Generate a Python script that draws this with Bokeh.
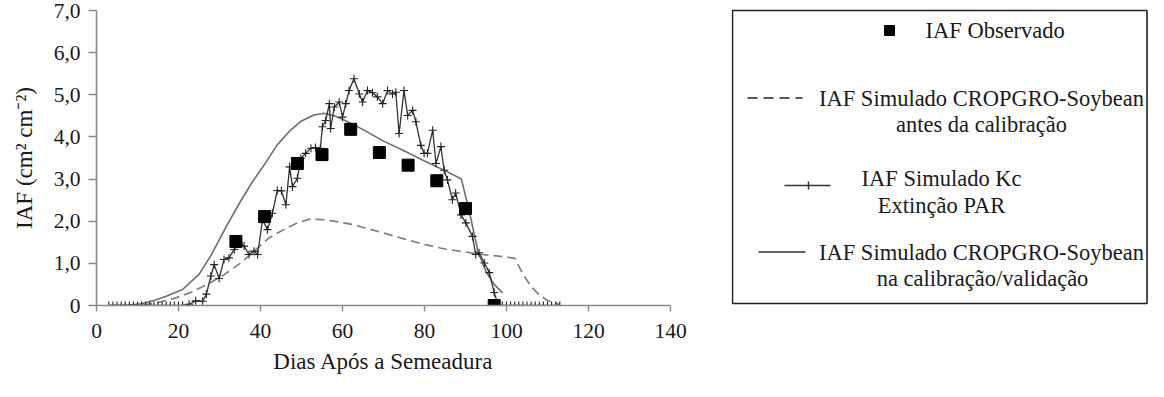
from bokeh.plotting import figure
from bokeh.models import Range1d, FixedTicker, ColumnDataSource
from bokeh.layouts import row
from bokeh.embed import file_html
from bokeh.resources import INLINE
from bokeh.core.properties import value

FONT = "Liberation Serif"

# ---- data ----
obs_days = [34, 41, 49, 55, 62, 69, 76, 83, 90, 97]
obs_iaf = [1.52, 2.11, 3.37, 3.58, 4.18, 3.63, 3.33, 2.96, 2.30, 0.0]

cal_days = [3, 8, 11, 14, 17, 21, 25, 28, 31.5, 35, 38, 41, 44, 47, 50, 53, 55.5, 58, 60, 63, 66, 70, 75, 80, 85, 89, 91, 93, 95, 97, 99]
cal_iaf = [0.0, 0.01, 0.04, 0.12, 0.22, 0.38, 0.74, 1.2, 1.85, 2.45, 2.93, 3.35, 3.8, 4.13, 4.38, 4.52, 4.56, 4.5, 4.42, 4.28, 4.12, 3.9, 3.67, 3.43, 3.2, 3.0, 2.2, 1.3, 0.8, 0.5, 0.3]

pre_days = [8, 12, 15, 19, 23, 27, 31, 35, 38, 42, 46, 49, 52, 55, 58, 62, 66, 70, 75, 80, 85, 90, 95, 100, 102, 104, 106, 108, 110, 113]
pre_iaf = [0.0, 0.02, 0.07, 0.17, 0.31, 0.5, 0.72, 1.0, 1.25, 1.6, 1.82, 1.96, 2.05, 2.04, 2.0, 1.93, 1.83, 1.72, 1.58, 1.45, 1.34, 1.27, 1.2, 1.15, 1.12, 0.75, 0.45, 0.25, 0.12, 0.02]

kc_days = [3, 4, 5, 6, 7, 8, 9, 10, 11, 12, 13, 14, 15, 16, 17, 18, 19, 20, 21,
           22.6, 24.2, 25.9, 26.8, 27.9, 28.7, 29.9, 31.1, 32.3, 33.6, 34.8, 36.0, 37.2, 38.4, 39.3,
           40.5, 41.7, 42.9, 44.1, 45.1, 46.2, 47.1, 47.8, 49.0, 49.8, 51.0, 52.3, 53.4, 54.6, 55.1,
           55.9, 56.8, 57.1, 58.0, 59.2, 60.0, 60.8, 61.6, 62.8, 64.1, 64.9, 66.1, 67.3, 68.5, 69.8,
           71.0, 72.2, 73.0, 73.8, 75.0, 75.9, 77.1, 77.9, 79.1, 79.9, 80.7, 82.0, 82.8, 84.0, 84.8,
           85.6, 86.8, 87.6, 88.9, 90.1, 91.7, 92.5, 93.3, 94.6, 95.8, 97.0, 98.0,
           99, 100, 101, 102, 103, 104, 105, 106, 107, 108, 109, 110, 111, 112, 113]
kc_iaf = [0.0] * 19 + [
           0.03, 0.11, 0.10, 0.27, 0.70, 0.97, 0.64, 1.09, 1.13, 1.33, 1.49, 1.41, 1.21, 1.29, 1.21,
           2.04, 1.80, 2.19, 2.73, 2.72, 2.39, 3.29, 2.82, 3.02, 3.49, 3.61, 3.73, 3.75, 3.73, 4.24,
           4.39, 4.79, 4.20, 4.71, 4.83, 4.47, 4.79, 5.10, 5.38, 5.02, 4.83, 5.10, 5.05, 4.95, 4.79,
           5.10, 5.02, 5.06, 4.08, 5.10, 4.51, 4.63, 4.36, 3.80, 3.61, 3.61, 4.16, 3.37, 3.77, 3.21,
           2.98, 2.51, 2.67, 2.15, 1.96, 1.64, 1.21, 1.25, 1.01, 0.78, 0.31, 0.0] + [0.0] * 15

x_ticks = [0, 20, 40, 60, 80, 100, 120, 140]
y_ticks = [0, 1, 2, 3, 4, 5, 6, 7]
y_tick_labels = ["0", "1,0", "2,0", "3,0", "4,0", "5,0", "6,0", "7,0"]

x_title = "Dias Após a Semeadura"
y_title = "IAF (cm² cm⁻²)"

leg_obs = "IAF Observado"
leg_pre = ["IAF Simulado CROPGRO-Soybean", "antes da calibração"]
leg_kc = ["IAF Simulado Kc", "Extinção PAR"]
leg_cal = ["IAF Simulado CROPGRO-Soybean", "na calibração/validação"]

# ---- main plot ----
p = figure(width=731, height=381, output_backend="svg", toolbar_location=None,
           x_range=Range1d(0, 140), y_range=Range1d(0, 7),
           min_border_left=96, min_border_right=61, min_border_top=10, min_border_bottom=76)
p.frame_align = False
p.outline_line_color = None
p.xgrid.grid_line_color = None
p.ygrid.grid_line_color = None
p.background_fill_color = "white"
p.border_fill_color = "white"

for ax in (p.xaxis[0], p.yaxis[0]):
    ax.axis_line_color = "#8a8a8a"
    ax.axis_line_width = 1.6
    ax.major_tick_line_color = "#8a8a8a"
    ax.major_tick_line_width = 1.4
    ax.major_tick_in = 0
    ax.minor_tick_line_color = None
    ax.major_label_text_font = FONT
    ax.major_label_text_font_size = "21.5px"
    ax.major_label_text_color = "#1a1a1a"
    ax.axis_label_text_font = FONT
    ax.axis_label_text_font_size = "23px"
    ax.axis_label_text_font_style = "normal"
    ax.axis_label_text_color = "#1a1a1a"

p.xaxis.major_tick_out = 6
p.yaxis.major_tick_out = 8
p.xaxis.ticker = FixedTicker(ticks=x_ticks)
p.yaxis.ticker = FixedTicker(ticks=y_ticks)
p.yaxis.major_label_overrides = {t: l for t, l in zip(y_ticks, y_tick_labels)}
p.xaxis.axis_label = x_title
p.yaxis.axis_label = y_title
p.xaxis.major_label_standoff = 12
p.yaxis.major_label_standoff = 8
p.xaxis.axis_label_standoff = 8
p.yaxis.axis_label_standoff = 14

src_pre = ColumnDataSource(dict(x=pre_days, y=pre_iaf))
src_cal = ColumnDataSource(dict(x=cal_days, y=cal_iaf))
src_kc = ColumnDataSource(dict(x=kc_days, y=kc_iaf))
src_obs = ColumnDataSource(dict(x=obs_days, y=obs_iaf))

p.line("x", "y", source=src_pre, line_color="#808080", line_width=1.7, line_dash="9 5")
p.line("x", "y", source=src_cal, line_color="#6e6e6e", line_width=1.6)
p.line("x", "y", source=src_kc, line_color="#333333", line_width=1.3)
p.scatter("x", "y", source=src_kc, marker="cross", size=8, line_color="#222222", line_width=1.1)
p.scatter("x", "y", source=src_obs, marker="square", size=12, fill_color="black", line_color="black")

# ---- legend panel ----
lg = figure(width=417, height=381, output_backend="svg", toolbar_location=None,
            x_range=Range1d(0, 417), y_range=Range1d(381, 0),
            min_border=0, min_border_left=0, min_border_right=0, min_border_top=0, min_border_bottom=0)
lg.frame_align = False
lg.axis.visible = False
lg.xgrid.grid_line_color = None
lg.ygrid.grid_line_color = None
lg.outline_line_color = None
lg.background_fill_color = "white"
lg.border_fill_color = "white"

dy = 1
lg.quad(left=[1], right=[415.5], top=[9 + dy], bottom=[302 + dy], fill_color=None,
        line_color="#222222", line_width=1.6)

# sample glyphs
lg.scatter(x=[158], y=[29 + dy], marker="square", size=10, fill_color="black", line_color="black")
lg.line(x=[16, 71], y=[96.5 + dy, 96.5 + dy], line_color="#555555", line_width=1.8, line_dash="10 6")
lg.line(x=[53, 99], y=[184 + dy, 184 + dy], line_color="#333333", line_width=1.5)
lg.segment(x0=[77], y0=[180 + dy], x1=[77], y1=[188 + dy], line_color="#333333", line_width=1.5)
lg.line(x=[27, 74], y=[250.5 + dy, 250.5 + dy], line_color="#333333", line_width=1.5)

tfont = value(FONT)
lg.text(x=[194], y=[29 + dy], text=[leg_obs], text_font=tfont, text_font_size="22.5px",
        text_align="left", text_baseline="middle", text_color="#1a1a1a")
lg.text(x=[250, 250, 210, 210, 250, 251],
        y=[v + dy for v in [96.5, 123, 177, 204, 250.5, 277]],
        text=[leg_pre[0], leg_pre[1], leg_kc[0], leg_kc[1], leg_cal[0], leg_cal[1]],
        text_font=tfont, text_font_size="22.5px",
        text_align="center", text_baseline="middle", text_color="#1a1a1a")

layout = row(p, lg, spacing=0)
open("out.html", "w").write(file_html(layout, INLINE))
